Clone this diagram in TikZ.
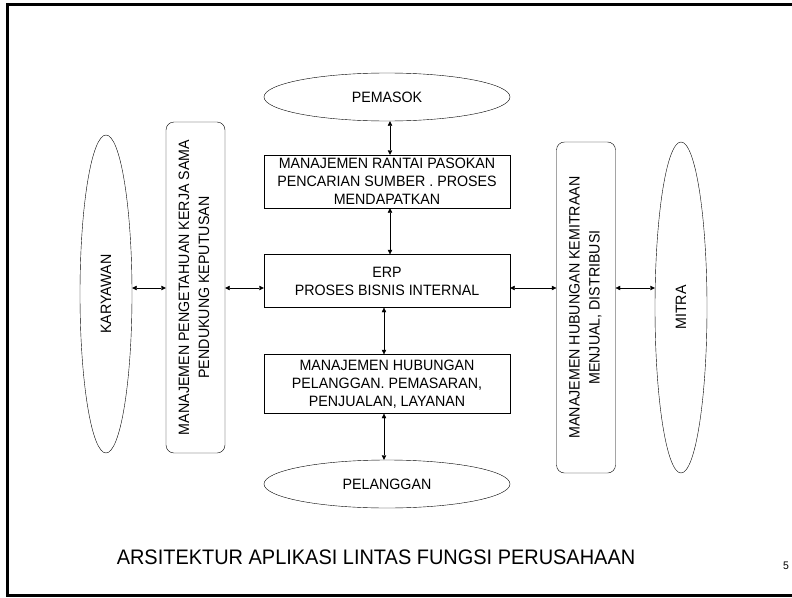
\documentclass[tikz,border=0pt]{standalone}
\usepackage{fontspec}
\setmainfont[FakeStretch=0.95]{Liberation Sans}
\usetikzlibrary{shapes.geometric,arrows.meta}
\begin{document}
\begin{tikzpicture}
[x=1pt,y=-1pt,%
  every node/.style={inner sep=0pt,font=\fontsize{15}{18}\selectfont},%
  party/.style={shape=ellipse,draw,thin},%
  sysbox/.style={shape=rectangle,draw,thin,align=center,minimum width=246,minimum height=53},%
  sidebox/.style={shape=rectangle,draw,thin,rounded corners=8pt,minimum width=59,minimum height=331},%
  link/.style={{Triangle[length=4.5pt,width=4.5pt]}-{Triangle[length=4.5pt,width=4.5pt]},thin}]
\useasboundingbox (0,0) rectangle (792,597);
\begin{scope}
\clip (0,0) rectangle (792,597);
\draw[line width=2.5pt] (7.5,4.5) rectangle (820,595.5);
\end{scope}
\node (page) at (786,566) {\fontsize{11}{13}\selectfont 5};
% center column
\node[party,minimum width=246,minimum height=48] (pem) at (387,97) {PEMASOK};
\node[sysbox] (scm) at (387,181.5) {MANAJEMEN RANTAI PASOKAN\\PENCARIAN SUMBER . PROSES\\MENDAPATKAN};
\node[sysbox] (erp) at (387,281) {ERP\\PROSES BISNIS INTERNAL};
\node[sysbox,minimum height=59] (crm) at (387,384) {MANAJEMEN HUBUNGAN\\PELANGGAN. PEMASARAN,\\PENJUALAN, LAYANAN};
\node[party,minimum width=246,minimum height=48] (pel) at (387,484) {PELANGGAN};
% sides
\node[party,minimum width=52,minimum height=318] (kar) at (106,294) {\rotatebox{90}{KARYAWAN}};
\node[sidebox] (km) at (195.5,287.5) {\rotatebox{90}{\begin{tabular}{@{}c@{}}MANAJEMEN PENGETAHUAN KERJA SAMA\\[2pt]PENDUKUNG KEPUTUSAN\end{tabular}}};
\node[sidebox] (prm) at (586,307.5) {\rotatebox{90}{\begin{tabular}{@{}c@{}}MANAJEMEN HUBUNGAN KEMITRAAN\\[2pt]MENJUAL, DISTRIBUSI\end{tabular}}};
\node[party,minimum width=52,minimum height=331] (mit) at (681,307.5) {\rotatebox{90}{MITRA}};
\node[font=\fontsize{21}{25}\selectfont] (title) at (376,557) {ARSITEKTUR APLIKASI LINTAS FUNGSI PERUSAHAAN};
% links
\coordinate (row) at (0,288);
\draw[link] ([xshift=3pt]pem.south) -- ([xshift=3pt]scm.north);
\draw[link] ([xshift=3pt]scm.south) -- ([xshift=3pt]erp.north);
\draw[link] ([xshift=-3pt]erp.south) -- ([xshift=-3pt]crm.north);
\draw[link] ([xshift=-3pt]crm.south) -- ([xshift=-3pt]pel.north);
\draw[link] (kar.east |- row) -- (km.west |- row);
\draw[link] (km.east |- row) -- (erp.west |- row);
\draw[link] (erp.east |- row) -- (prm.west |- row);
\draw[link] (prm.east |- row) -- (mit.west |- row);
\end{tikzpicture}
\end{document}
